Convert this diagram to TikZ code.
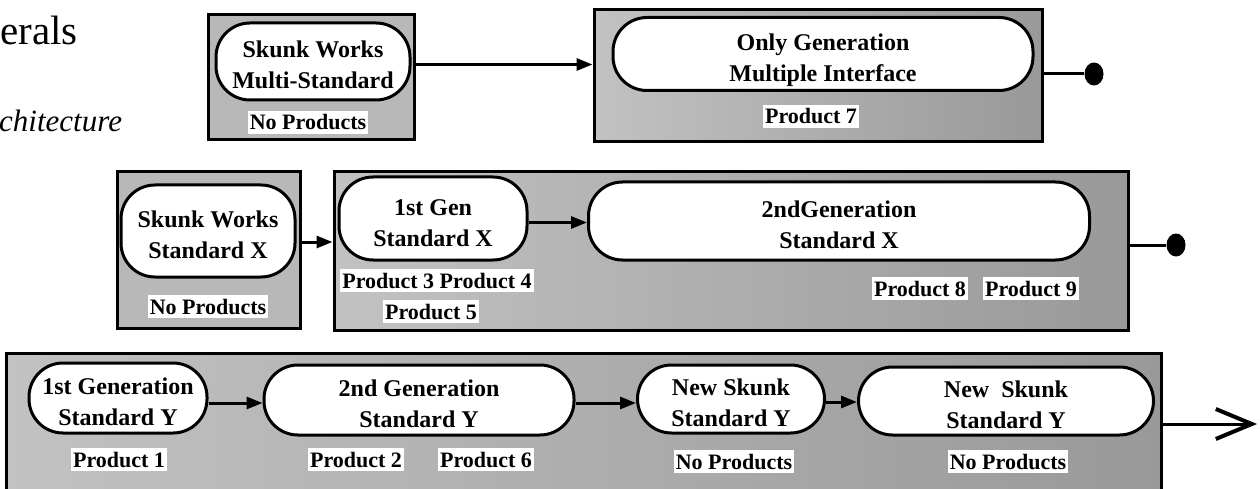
\documentclass[tikz,border=0pt]{standalone}
\usepackage{fontspec}
\setmainfont{Liberation Serif}
\usetikzlibrary{arrows.meta,shapes.geometric}
\newcommand\pilltext{\fontsize{24}{31}\selectfont\bfseries}
\newcommand\tagtext{\fontsize{22}{22}\selectfont\bfseries}
% two centred lines with a fixed top and bottom so every pill sets its text alike
\newcommand\twolines[2]{\rule{0pt}{30pt}#1\\#2\rule[-6pt]{0pt}{6pt}}
\begin{document}
\begin{tikzpicture}[x=1pt,y=-1pt,
  panel/.style={draw=black, line width=3pt, fill=black!28, inner sep=0pt},
  longpanel/.style={panel, left color=black!24, right color=black!40},
  pill/.style={draw=black, line width=3pt, fill=white, rounded corners=34pt,
    inner sep=0pt, align=center, font=\pilltext},
  tag/.style={fill=white, inner xsep=2pt, inner ysep=4pt, anchor=base, font=\tagtext},
  flow/.style={line width=3pt, -{Triangle[length=16pt,width=12pt]}},
  stub/.style={line width=3pt},
  knob/.style={ellipse, fill=black, minimum width=19pt, minimum height=23pt, inner sep=0pt},
  exit/.style={line width=3pt, -{Straight Barb[length=36pt,width=30pt,line width=4pt]}}
  ]
\useasboundingbox (0,0) rectangle (1260,489);

% title fragments
\node[anchor=base west, inner sep=0pt, font=\fontsize{41}{41}\selectfont] (ttl) at (0,45) {erals};
\node[anchor=base west, inner sep=0pt, font=\fontsize{31}{31}\selectfont\itshape] (sub) at (-1,132) {chitecture};

% ---- top row: multi-standard
\node[panel, minimum width=206pt, minimum height=125pt] (A) at (311,77.5) {};
\node[pill, minimum width=194pt, minimum height=77pt] (Ap) at (313,61.5) {\twolines{Skunk Works}{Multi-Standard}};
\node[tag] (At) at (308,130) {No Products};

\node[longpanel, minimum width=448pt, minimum height=132pt] (B) at (818,76) {};
\node[pill, minimum width=420pt, minimum height=73pt] (Bp) at (823,54) {\twolines{Only Generation}{Multiple Interface}};
\node[tag] (Bt) at (811,124) {Product 7};
\node[knob] (Bk) at (1094,74) {};

% ---- middle row: standard X
\node[panel, minimum width=183pt, minimum height=156pt] (C) at (208.5,250) {};
\node[pill, minimum width=174pt, minimum height=92pt] (Cp) at (208,231) {\twolines{Skunk Works}{Standard X}};
\node[tag] (Ct) at (208,314) {No Products};

\node[longpanel, minimum width=794pt, minimum height=158pt] (D) at (731,251) {};
\node[pill, minimum width=188pt, minimum height=83pt] (D1) at (433,218.5) {\twolines{1st Gen}{Standard X}};
\node[pill, minimum width=501pt, minimum height=78pt] (D2) at (839,221) {\twolines{2ndGeneration}{Standard X}};
\node[tag] (P34) at (437,288) {Product 3 Product 4};
\node[tag] (P5) at (431,319) {Product 5};
\node[tag] (P8) at (920,296) {Product 8};
\node[tag] (P9) at (1031,296) {Product 9};
\node[knob] (Dk) at (1176,245) {};

% ---- bottom row: standard Y
\node[longpanel, minimum width=1155pt, minimum height=147pt] (E) at (583.5,426.5) {};
\node[pill, minimum width=178pt, minimum height=70pt] (E1) at (118,398) {\twolines{1st Generation}{Standard Y}};
\node[pill, minimum width=310pt, minimum height=70pt] (E2) at (419,400) {\twolines{2nd Generation}{Standard Y}};
\node[pill, minimum width=187pt, minimum height=68pt] (E3) at (731,399) {\twolines{New Skunk}{Standard Y}};
\node[pill, minimum width=295pt, minimum height=68pt] (E4) at (1006,401) {\twolines{New\ \ Skunk}{Standard Y}};
\node[tag] (P1) at (119,467) {Product 1};
\node[tag] (P2) at (356,467) {Product 2};
\node[tag] (P6) at (486,467) {Product 6};
\node[tag] (E3t) at (734,469) {No Products};
\node[tag] (E4t) at (1008,469) {No Products};
\coordinate (Eout) at (1257,424);

% ---- connectors
\draw[flow] ([yshift=13pt]A.east) -- ([yshift=13pt]A.east -| B.west);
\draw[stub] (Bk -| B.east) -- (Bk.west);
\draw[flow] ([yshift=8pt]C.east) -- ([yshift=8pt]C.east -| D.west);
\draw[flow] ([yshift=-4pt]D1.east) -- ([yshift=-4pt]D1.east -| D2.west);
\draw[stub] (Dk -| D.east) -- (Dk.west);
\draw[flow] ([yshift=-5pt]E1.east) -- ([yshift=-5pt]E1.east -| E2.west);
\draw[flow] ([yshift=-3pt]E2.east) -- ([yshift=-3pt]E2.east -| E3.west);
\draw[flow] ([yshift=-3pt]E3.east) -- ([yshift=-3pt]E3.east -| E4.west);
\draw[exit] (Eout -| E.east) -- (Eout);
\end{tikzpicture}
\end{document}
